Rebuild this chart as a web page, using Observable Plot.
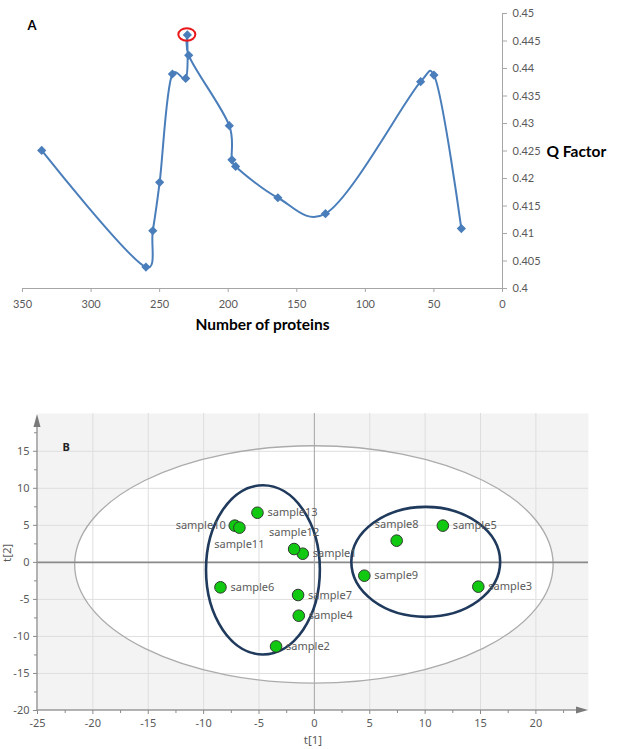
<!DOCTYPE html>
<html><head><meta charset="utf-8">
<script src="https://cdn.jsdelivr.net/npm/d3@7"></script>
<script src="https://cdn.jsdelivr.net/npm/@observablehq/plot@0.6"></script>
<style>
body{margin:0;background:#fff;}
#wrap{position:relative;width:623px;height:749px;overflow:hidden;background:#fff;}
#a{position:absolute;left:0;top:0;}
#b{position:absolute;left:0;top:380px;}
</style></head><body>
<div id="wrap"><div id="a"></div><div id="b"></div></div>
<script>
// ---------- Panel A data ----------
const proteins = [336, 260, 255, 250, 240.7, 231, 229.8, 228.8, 199.2, 197.3, 194.6, 163.8, 129.1, 59.7, 50, 30];
const qFactor  = [0.4251, 0.4039, 0.4105, 0.4193, 0.4390, 0.4382, 0.4461, 0.4424, 0.4296, 0.4234, 0.4222, 0.4165, 0.4136, 0.4376, 0.4388, 0.4109];
const highlightIndex = 6;
const proteinTicks = [350, 300, 250, 200, 150, 100, 50, 0];
const qTicks = [0.4, 0.405, 0.41, 0.415, 0.42, 0.425, 0.43, 0.435, 0.44, 0.445, 0.45];

// ---------- Panel B data ----------
const samples = ["sample1","sample2","sample3","sample4","sample5","sample6","sample7","sample8","sample9","sample10","sample11","sample12","sample13"];
const t1 = [-1.05, -3.46, 14.8, -1.41, 11.6, -8.48, -1.47, 7.43, 4.51, -7.19, -6.77, -1.83, -5.14];
const t2 = [1.17, -11.35, -3.28, -7.2, 4.96, -3.37, -4.41, 2.93, -1.8, 4.96, 4.69, 1.8, 6.7];
const t1Ticks = [-25, -20, -15, -10, -5, 0, 5, 10, 15, 20];
const t2Ticks = [-20, -15, -10, -5, 0, 5, 10, 15];
const t1Minor = [-22.5, -17.5, -12.5, -7.5, -2.5, 2.5, 7.5, 12.5, 17.5, 22.5];
const t2Minor = [-17.5, -12.5, -7.5, -2.5, 2.5, 7.5, 12.5, 17.5];
// Hotelling T2 ellipse and the two group ellipses (centre, radii in score units)
const hotCx = [0], hotCy = [-0.35], hotRx = [21.6], hotRy = [16.03];
const grpCx = [-4.6, 10.1], grpCy = [-1.08, 0], grpRx = [5.14, 6.72], grpRy = [11.42, 7.42];

// label placement (style, kept apart from data)
const labelSide = {sample10: "left", sample11: "below", sample12: "above", sample8: "above"};

// ---------- Panel A ----------
const dataA = proteins.map((p, i) => ({p, q: qFactor[i]}));
const blue = "#4a7ebb";

const highlightMark = (index, {x, y}) => {
  const g = d3.create("svg:g");
  g.append("ellipse")
    .attr("cx", x(proteins[highlightIndex])).attr("cy", y(qFactor[highlightIndex]))
    .attr("rx", 8.5).attr("ry", 6.2)
    .attr("fill", "none").attr("stroke", "#e8181c").attr("stroke-width", 2);
  return g.node();
};

const plotA = Plot.plot({
  width: 623, height: 340,
  marginLeft: 22, marginRight: 121, marginTop: 13, marginBottom: 52,
  x: {domain: [350, 0]},
  y: {domain: [0.4, 0.45]},
  style: {fontFamily: "Lato, 'Open Sans', sans-serif", fontSize: "11px", background: "transparent", overflow: "visible"},
  marks: [
    Plot.ruleY([0.4], {stroke: "#a6a6a6", strokeWidth: 1}),
    Plot.ruleX([0], {stroke: "#a6a6a6", strokeWidth: 1}),
    Plot.axisX({ticks: proteinTicks, tickSize: 4, tickPadding: 8, stroke: "#a6a6a6", fill: "#595959", tickFormat: d => String(d), label: null}),
    Plot.axisY({anchor: "right", ticks: qTicks, tickSize: 4, tickPadding: 6, stroke: "#a6a6a6", fill: "#595959", tickFormat: d => String(+d.toFixed(3)), label: null}),
    Plot.line(dataA, {x: "p", y: "q", curve: d3.curveCatmullRom.alpha(0.25), stroke: blue, strokeWidth: 2}),
    Plot.dot(dataA, {x: "p", y: "q", symbol: "diamond2", r: 3.2, fill: blue, stroke: blue}),
    highlightMark,
    Plot.text(["A"], {frameAnchor: "top-left", dx: 5, dy: 12, textAnchor: "start", lineAnchor: "middle", fontWeight: "bold", fontSize: 13, fill: "#000"}),
    Plot.text(["Number of proteins"], {frameAnchor: "bottom", dy: 37, lineAnchor: "middle", fontWeight: "bold", fontSize: 15.5, fill: "#000"}),
    Plot.text(["Q Factor"], {frameAnchor: "right", dx: 44, dy: 1, textAnchor: "start", lineAnchor: "middle", fontWeight: "bold", fontSize: 15.5, fill: "#000"})
  ]
});
document.getElementById("a").appendChild(plotA);

// ---------- Panel B ----------
const dataB = samples.map((s, i) => ({s, t1: t1[i], t2: t2[i], side: labelSide[s] || "right"}));

const ellipses = (cxs, cys, rxs, rys, fill, stroke, sw) => (index, {x, y}) => {
  const g = d3.create("svg:g");
  cxs.forEach((cx, i) => {
    const px = x(cx), py = y(cys[i]);
    g.append("ellipse")
      .attr("cx", px).attr("cy", py)
      .attr("rx", Math.abs(x(cx + rxs[i]) - px))
      .attr("ry", Math.abs(y(cys[i] + rys[i]) - py))
      .attr("fill", fill).attr("stroke", stroke).attr("stroke-width", sw);
  });
  return g.node();
};

const axesB = (index, scales, values, dims) => {
  const g = d3.create("svg:g");
  const x0 = dims.marginLeft, x1 = dims.width - dims.marginRight;
  const y0 = dims.height - dims.marginBottom, y1 = dims.marginTop;
  g.append("line").attr("x1", x0).attr("y1", y0).attr("x2", x1 - 8).attr("y2", y0).attr("stroke", "#9a9a9a").attr("stroke-width", 1.5);
  g.append("line").attr("x1", x0).attr("y1", y0).attr("x2", x0).attr("y2", y1 + 8).attr("stroke", "#9a9a9a").attr("stroke-width", 1.5);
  g.append("path").attr("d", `M${x1},${y0}L${x1 - 12},${y0 - 3.5}L${x1 - 12},${y0 + 3.5}Z`).attr("fill", "#7a7a7a");
  g.append("path").attr("d", `M${x0},${y1 + 1}L${x0 - 3.5},${y1 + 14}L${x0 + 3.5},${y1 + 14}Z`).attr("fill", "#7a7a7a");
  return g.node();
};

const labelFont = {fontSize: 11, fill: "#5a5a5a", fontFamily: "'Noto Sans', 'Open Sans', sans-serif"};

const plotB = Plot.plot({
  width: 623, height: 369,
  marginLeft: 37, marginRight: 35, marginTop: 33, marginBottom: 39,
  x: {domain: [-25, 24.75]},
  y: {domain: [-20, 20.1]},
  style: {fontFamily: "'Noto Sans', 'Open Sans', sans-serif", fontSize: "11px", background: "transparent", overflow: "visible"},
  marks: [
    Plot.frame({fill: "#f3f3f3", stroke: "none"}),
    ellipses(hotCx, hotCy, hotRx, hotRy, "#fff", "none", 0),
    Plot.gridX({ticks: t1Ticks.filter(d => d > -25), stroke: "#dedede", strokeOpacity: 1}),
    Plot.gridY({ticks: t2Ticks.filter(d => d > -20), stroke: "#dedede", strokeOpacity: 1}),
    ellipses(hotCx, hotCy, hotRx, hotRy, "none", "#ababab", 1.3),
    Plot.ruleY([0], {stroke: "#8a8a8a", strokeWidth: 1.6}),
    Plot.ruleX([0], {stroke: "#a8a8a8", strokeWidth: 1}),
    axesB,
    Plot.axisX({ticks: t1Ticks, tickSize: 4, tickPadding: 5, stroke: "#8a8a8a", fill: "#5a5a5a", tickFormat: d => String(d), label: null}),
    Plot.axisX({ticks: t1Minor, tickSize: 3, tickPadding: 0, stroke: "#8a8a8a", tickFormat: () => "", label: null}),
    Plot.axisY({ticks: t2Ticks, tickSize: 4, tickPadding: 4, stroke: "#8a8a8a", fill: "#5a5a5a", tickFormat: d => String(d), label: null}),
    Plot.axisY({ticks: t2Minor, tickSize: 3, tickPadding: 0, stroke: "#8a8a8a", tickFormat: () => "", label: null}),
    ellipses(grpCx, grpCy, grpRx, grpRy, "none", "#1f3a5c", 2.6),
    Plot.dot(dataB, {x: "t1", y: "t2", r: 5.8, fill: "#12c912", stroke: "#2e3a2e", strokeWidth: 1}),
    Plot.text(dataB.filter(d => d.side === "right"), {x: "t1", y: "t2", text: "s", dx: 10, textAnchor: "start", lineAnchor: "middle", ...labelFont}),
    Plot.text(dataB.filter(d => d.side === "left"), {x: "t1", y: "t2", text: "s", dx: -9, textAnchor: "end", lineAnchor: "middle", ...labelFont}),
    Plot.text(dataB.filter(d => d.side === "above"), {x: "t1", y: "t2", text: "s", dy: -16.7, textAnchor: "middle", lineAnchor: "middle", ...labelFont}),
    Plot.text(dataB.filter(d => d.side === "below"), {x: "t1", y: "t2", text: "s", dy: 17, textAnchor: "middle", lineAnchor: "middle", ...labelFont}),
    Plot.text(["B"], {frameAnchor: "top-left", dx: 25, dy: 34, textAnchor: "start", lineAnchor: "middle", fontWeight: "bold", fontSize: 11, fill: "#222"}),
    Plot.text(["t[1]"], {frameAnchor: "bottom", dy: 30, lineAnchor: "middle", fontSize: 11.5, fill: "#5a5a5a"}),
    Plot.text(["t[2]"], {frameAnchor: "left", dx: -30, rotate: -90, lineAnchor: "middle", fontSize: 11.5, fill: "#5a5a5a"})
  ]
});
document.getElementById("b").appendChild(plotB);
</script>
</body></html>
